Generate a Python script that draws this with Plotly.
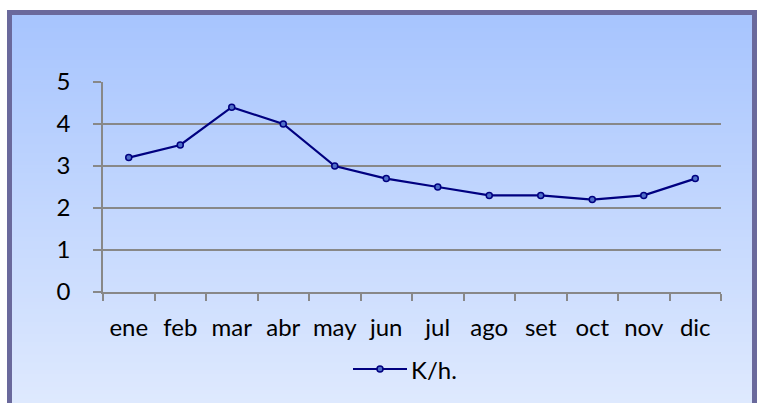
import plotly.graph_objects as go

months = ["ene", "feb", "mar", "abr", "may", "jun", "jul", "ago", "set", "oct", "nov", "dic"]
values = [3.2, 3.5, 4.4, 4.0, 3.0, 2.7, 2.5, 2.3, 2.3, 2.2, 2.3, 2.7]
series_name = "K/h."

W, H = 762, 403
FONT = "Lato, 'Open Sans', sans-serif"
NAVY = "#000080"
MFILL = "#4F6FC8"
AXC = "#888888"

fig = go.Figure()
fig.add_trace(go.Scatter(
    x=months, y=values, name=series_name, mode="lines+markers",
    line=dict(color=NAVY, width=2.2),
    marker=dict(symbol="circle", size=6, color=MFILL, line=dict(color=NAVY, width=1.5)),
    showlegend=False, cliponaxis=False,
))

l, r, t, b = 103, 41, 82, 111
pw = W - l - r
ph = H - t - b
def px2x(px):
    return (px - l) / pw
def py2y(py):
    return (H - b - py) / ph

# vertical gradient background built from thin bands covering the whole page
shapes = []
top = (165, 195, 254)
bot = (222, 233, 254)
N = 100
for i in range(N):
    tt = i / (N - 1)
    c = tuple(round(top[k] + (bot[k] - top[k]) * tt) for k in range(3))
    ya = i * H / N
    yb = (i + 1) * H / N
    shapes.append(dict(type="rect", xref="paper", yref="paper",
                       x0=px2x(-5), x1=px2x(W + 5), y0=py2y(yb + 0.5), y1=py2y(ya - 0.5),
                       fillcolor="rgb(%d,%d,%d)" % c, line=dict(width=0), layer="below"))

# white margins outside the frame
for (xa, xb, ya, yb) in [(-5, 7, -5, 410), (757, 770, -5, 410), (-5, 770, -5, 10)]:
    shapes.append(dict(type="rect", xref="paper", yref="paper", x0=px2x(xa), x1=px2x(xb),
                       y0=py2y(yb), y1=py2y(ya), fillcolor="white", line=dict(width=0), layer="below"))
# frame
shapes.append(dict(type="rect", xref="paper", yref="paper", x0=px2x(9.5), x1=px2x(754.5),
                   y0=py2y(430), y1=py2y(12.5),
                   fillcolor="rgba(0,0,0,0)", line=dict(color="#6A699C", width=5), layer="below"))

# legend (drawn manually to match the long line sample)
ly = 369
shapes.append(dict(type="line", xref="paper", yref="paper", x0=px2x(353), x1=px2x(407),
                   y0=py2y(ly), y1=py2y(ly), line=dict(color=NAVY, width=2.2)))
shapes.append(dict(type="circle", xref="paper", yref="paper", x0=px2x(377), x1=px2x(383),
                   y0=py2y(ly + 3), y1=py2y(ly - 3), fillcolor=MFILL, line=dict(color=NAVY, width=1.5)))
annotations = [dict(xref="paper", yref="paper", x=px2x(409), y=py2y(ly), xanchor="left", yanchor="middle",
                    text=series_name, showarrow=False, font=dict(size=24, color="black", family=FONT))]

fig.update_layout(
    width=W, height=H,
    margin=dict(l=l, r=r, t=t, b=b, autoexpand=False),
    paper_bgcolor="white", plot_bgcolor="rgba(0,0,0,0)",
    shapes=shapes, annotations=annotations,
    font=dict(family=FONT, size=24, color="black"),
    showlegend=False,
    xaxis=dict(type="category", tickson="boundaries", ticks="outside", ticklen=7, tickwidth=1.5,
               tickcolor=AXC, showline=True, linecolor=AXC, linewidth=1.5, automargin=False,
               showgrid=False, ticklabelstandoff=13, tickangle=0, range=[-0.5, 11.5]),
    yaxis=dict(range=[0, 5], dtick=1, ticks="outside", ticklen=8, tickwidth=1.5, tickcolor=AXC,
               showline=True, linecolor=AXC, linewidth=1.5, showgrid=True, automargin=False,
               gridcolor=AXC, gridwidth=1.5, zeroline=False, ticklabelstandoff=18),
)

fig.write_html("out.html", config={"displayModeBar": False},
               post_script="document.body.style.margin='0';document.body.style.overflow='hidden';")
